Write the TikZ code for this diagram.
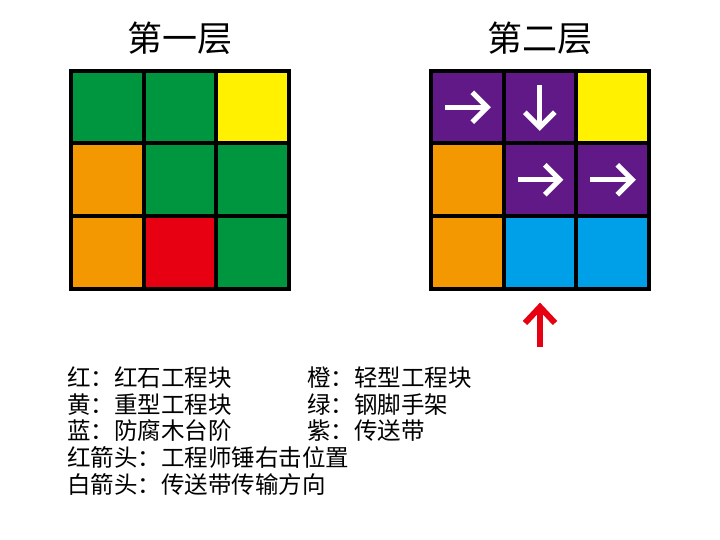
\documentclass[tikz,border=0pt]{standalone}
\usepackage{fontspec}
\newfontfamily\cjk{Noto Sans CJK SC}
\definecolor{cgreen}{RGB}{0,150,64}
\definecolor{cyellow}{RGB}{255,241,0}
\definecolor{corange}{RGB}{243,152,0}
\definecolor{cred}{RGB}{230,0,18}
\definecolor{cpurple}{RGB}{96,25,134}
\definecolor{cblue}{RGB}{0,160,233}
\begin{document}
\begin{tikzpicture}[x=1pt,y=-1pt,
  cell/.style={draw=black, line width=4pt, minimum size=72.5pt, inner sep=0pt, outer sep=0pt, line join=miter},
  title/.style={font=\cjk\fontsize{35}{40}\selectfont, inner sep=0pt},
  legend/.style={font=\cjk\fontsize{23.5}{27}\selectfont, anchor=west, inner sep=0pt},
  warrow/.style={draw=white, line width=5pt, line join=miter, line cap=butt},
  rarrow/.style={draw=cred, line width=6pt, line join=miter, line cap=butt}]
\useasboundingbox (0,0) rectangle (720,540);
% layer 1
\foreach \r/\c/\col in {0/0/cgreen,0/1/cgreen,0/2/cyellow,1/0/corange,1/1/cgreen,1/2/cgreen,2/0/corange,2/1/cred,2/2/cgreen}{
  \node[cell, fill=\col] (a\r\c) at ({71+36.25+72.5*\c},{71+36.25+72.5*\r}) {};
}
% layer 2
\foreach \r/\c/\col in {0/0/cpurple,0/1/cpurple,0/2/cyellow,1/0/corange,1/1/cpurple,1/2/cpurple,2/0/corange,2/1/cblue,2/2/cblue}{
  \node[cell, fill=\col] (b\r\c) at ({431+36.25+72.5*\c},{71+36.25+72.5*\r}) {};
}
\draw[black, line width=4pt] (a00.north west) rectangle (a22.south east);
\draw[black, line width=4pt] (b00.north west) rectangle (b22.south east);
% titles
\node[title] (t1) at (180,38) {第一层};
\node[title] (t2) at (540,38) {第二层};
% white arrows (right)
\foreach \n in {b00,b11,b12}{
  \draw[warrow] ([xshift=-22pt]\n.center) -- ([xshift=20pt]\n.center);
  \draw[warrow] ([xshift=5pt,yshift=-15pt]\n.center) -- ([xshift=20pt]\n.center) -- ([xshift=5pt,yshift=15pt]\n.center);
}
% white arrow (down)
\draw[warrow] ([yshift=22pt]b01.center) -- ([yshift=-20pt]b01.center);
\draw[warrow] ([xshift=-15pt,yshift=-5pt]b01.center) -- ([yshift=-20pt]b01.center) -- ([xshift=15pt,yshift=-5pt]b01.center);
% red arrow
\coordinate (rt) at (540,307);
\coordinate (rb) at (540,347);
\draw[rarrow] (rb) -- (rt);
\draw[rarrow] ([xshift=-15pt,yshift=-16pt]rt) -- (rt) -- ([xshift=15pt,yshift=-16pt]rt);
% legend
\node[legend] (l1) at (67,378) {红：红石工程块};
\node[legend] (l2) at (67,404.5) {黄：重型工程块};
\node[legend] (l3) at (67,431) {蓝：防腐木台阶};
\node[legend] (l4) at (67,457.5) {红箭头：工程师锤右击位置};
\node[legend] (l5) at (67,484) {白箭头：传送带传输方向};
\node[legend] (r1) at (307,378) {橙：轻型工程块};
\node[legend] (r2) at (307,404.5) {绿：钢脚手架};
\node[legend] (r3) at (307,431) {紫：传送带};
\end{tikzpicture}
\end{document}
